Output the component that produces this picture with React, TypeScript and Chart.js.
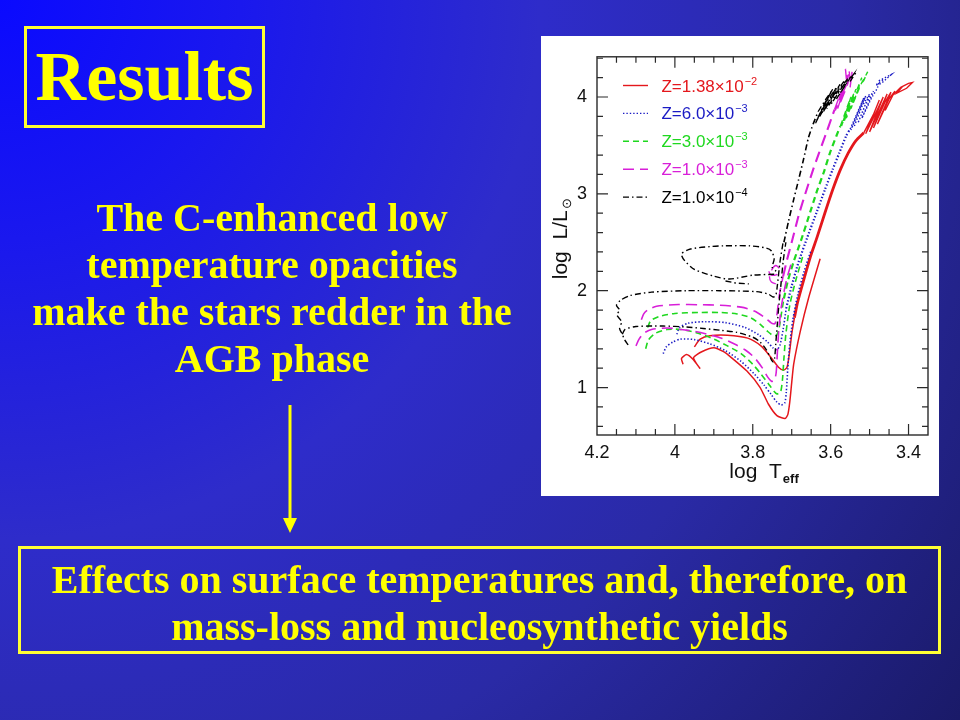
import React, { useEffect, useRef } from "react";
import { Chart, registerables } from "chart.js";

Chart.register(...registerables);

type P = [number, number];

// ---------- axis ticks ----------
const xTickValues = [4.2, 4.0, 3.8, 3.6, 3.4];
const xTickLabels = ["4.2", "4", "3.8", "3.6", "3.4"];
const yTickValues = [1, 2, 3, 4];
const yTickLabels = ["1", "2", "3", "4"];

// ---------- legend ----------
const legendMantissa = ["Z=1.38×10", "Z=6.0×10", "Z=3.0×10", "Z=1.0×10", "Z=1.0×10"];
const legendExponent = ["−2", "−3", "−3", "−3", "−4"];

// ---------- tracks (log Teff, log L/Lsun) ----------
// Z = 1.38e-2
const redLowTrack: P[] = [[3.979,1.24],[3.983,1.30],[3.97,1.34],[3.953,1.29],[3.936,1.20],[3.945,1.25],[3.952,1.31],[3.931,1.37],[3.90,1.41],[3.875,1.37],[3.858,1.32],[3.815,1.17],[3.781,1.0],[3.76,0.83],[3.738,0.71],[3.717,0.68],[3.71,0.72],[3.705,0.85],[3.70,1.05],[3.695,1.24],[3.678,1.58],[3.657,1.92],[3.627,2.33]];
const redUpTrack: P[] = [[3.95,1.42],[3.935,1.50],[3.91,1.535],[3.865,1.54],[3.813,1.51],[3.779,1.43],[3.753,1.31],[3.734,1.21],[3.721,1.18],[3.712,1.21],[3.706,1.35],[3.70,1.55],[3.693,1.72]];
const redAgb: P[] = [[3.693,1.72],[3.685,1.88],[3.67,2.1],[3.652,2.35],[3.635,2.55],[3.615,2.8],[3.595,3.04],[3.575,3.25],[3.555,3.42],[3.535,3.55],[3.515,3.63]];
const redPulses: P[] = [[3.515,3.63],[3.49,3.82],[3.475,3.97],[3.51,3.62],[3.48,3.87],[3.465,4.0],[3.50,3.64],[3.47,3.9],[3.455,4.03],[3.49,3.68],[3.46,3.95],[3.445,4.05],[3.48,3.72],[3.45,3.98],[3.435,4.06],[3.46,3.86],[3.44,4.02],[3.42,4.1],[3.40,4.14],[3.39,4.15],[3.405,4.09],[3.43,4.04],[3.415,4.11]];

// Z = 6.0e-3
const blueLowTrack: P[] = [[4.03,1.35],[4.022,1.42],[4.005,1.47],[3.985,1.50],[3.95,1.495],[3.91,1.45],[3.87,1.38],[3.83,1.27],[3.796,1.14],[3.77,1.02],[3.753,0.93],[3.738,0.85],[3.727,0.82],[3.718,0.84],[3.714,0.95],[3.71,1.2],[3.705,1.45],[3.697,1.7],[3.685,1.95],[3.668,2.2],[3.65,2.42]];
const blueUpTrack: P[] = [[3.995,1.55],[3.988,1.62],[3.965,1.665],[3.92,1.68],[3.87,1.67],[3.82,1.62],[3.785,1.545],[3.762,1.47],[3.748,1.41],[3.738,1.39],[3.73,1.44],[3.722,1.6],[3.714,1.82]];
const blueAgb: P[] = [[3.714,1.82],[3.70,2.05],[3.682,2.3],[3.66,2.55],[3.635,2.82],[3.615,3.04],[3.595,3.25],[3.578,3.42],[3.56,3.6],[3.55,3.67]];
const bluePulses: P[] = [[3.55,3.67],[3.53,3.85],[3.515,3.99],[3.548,3.66],[3.525,3.88],[3.51,4.01],[3.54,3.69],[3.52,3.9],[3.50,4.03],[3.53,3.73],[3.51,3.93],[3.49,4.06],[3.52,3.78],[3.495,3.99],[3.48,4.09],[3.475,4.17],[3.46,4.2],[3.445,4.23],[3.47,4.14],[3.485,4.12],[3.465,4.18]];

// Z = 3.0e-3
const greenLowTrack: P[] = [[4.075,1.40],[4.068,1.49],[4.05,1.56],[4.02,1.60],[3.985,1.60],[3.94,1.56],[3.90,1.50],[3.865,1.43],[3.83,1.35],[3.80,1.24],[3.779,1.14],[3.76,1.04],[3.745,0.96],[3.738,0.935],[3.729,0.95],[3.724,1.07],[3.72,1.3],[3.715,1.55],[3.705,1.85],[3.69,2.1],[3.672,2.35]];
const greenUpTrack: P[] = [[4.07,1.62],[4.062,1.69],[4.04,1.735],[4.0,1.765],[3.94,1.775],[3.884,1.775],[3.84,1.76],[3.805,1.72],[3.78,1.65],[3.762,1.58],[3.749,1.54],[3.739,1.54],[3.733,1.6],[3.727,1.75],[3.72,1.92]];
const greenAgb: P[] = [[3.72,1.92],[3.71,2.1],[3.695,2.3],[3.676,2.52],[3.655,2.78],[3.635,3.03],[3.617,3.23],[3.602,3.42],[3.585,3.6],[3.575,3.7]];
const greenPulses: P[] = [[3.575,3.7],[3.56,3.87],[3.548,4.0],[3.572,3.7],[3.555,3.9],[3.54,4.04],[3.566,3.74],[3.55,3.93],[3.535,4.08],[3.56,3.78],[3.54,3.98],[3.525,4.12],[3.548,3.88],[3.52,4.15],[3.51,4.22],[3.505,4.26],[3.515,4.17],[3.53,4.1],[3.52,4.2]];

// Z = 1.0e-3
const magentaLowTrack: P[] = [[4.10,1.43],[4.092,1.50],[4.08,1.56],[4.06,1.60],[4.02,1.615],[3.985,1.60],[3.95,1.58],[3.916,1.55],[3.88,1.51],[3.847,1.45],[3.82,1.39],[3.796,1.31],[3.775,1.20],[3.762,1.11],[3.752,1.065],[3.745,1.07],[3.74,1.15],[3.737,1.35],[3.733,1.6],[3.726,1.85],[3.714,2.1],[3.70,2.3]];
const magentaUpTrack: P[] = [[4.086,1.70],[4.08,1.76],[4.07,1.80],[4.047,1.84],[3.99,1.857],[3.94,1.855],[3.884,1.85],[3.83,1.83],[3.796,1.79],[3.768,1.72],[3.752,1.665],[3.743,1.66],[3.738,1.75],[3.732,1.95],[3.722,2.15]];
const magentaLoop: P[] = [[3.741,2.07],[3.752,2.09],[3.757,2.14],[3.752,2.21],[3.741,2.26],[3.733,2.23],[3.737,2.17],[3.752,2.16],[3.758,2.2],[3.748,2.24]];
const magentaAgb: P[] = [[3.722,2.15],[3.712,2.32],[3.70,2.5],[3.682,2.78],[3.662,3.04],[3.645,3.25],[3.63,3.42],[3.612,3.62],[3.598,3.78],[3.59,3.87]];
const magentaPulses: P[] = [[3.59,3.87],[3.58,3.98],[3.572,4.06],[3.588,3.86],[3.575,4.0],[3.565,4.1],[3.582,3.88],[3.57,4.03],[3.56,4.12],[3.577,3.92],[3.563,4.06],[3.555,4.15],[3.562,4.29],[3.558,4.12],[3.553,4.28],[3.548,4.13],[3.545,4.26],[3.55,4.1]];

// Z = 1.0e-4
const blackLowTrack: P[] = [[4.135,1.55],[4.128,1.60],[4.10,1.63],[4.03,1.635],[3.97,1.625],[3.927,1.61],[3.88,1.59],[3.841,1.57],[3.80,1.52],[3.781,1.47],[3.765,1.39],[3.755,1.31],[3.748,1.265],[3.744,1.30],[3.741,1.45],[3.737,1.65],[3.733,1.85],[3.728,2.05],[3.722,2.3],[3.715,2.5]];
const blackUpTrack: P[] = [[4.12,1.44],[4.13,1.50],[4.135,1.55],[4.142,1.61],[4.137,1.68],[4.149,1.75],[4.142,1.80],[4.15,1.85],[4.14,1.90],[4.115,1.95],[4.06,1.985],[3.97,2.0],[3.884,2.0],[3.79,1.99],[3.76,1.965],[3.748,1.935],[3.741,1.95],[3.737,2.05],[3.73,2.3],[3.722,2.5]];
const blackLoop: P[] = [[3.745,2.17],[3.80,2.16],[3.86,2.12],[3.90,2.15],[3.95,2.22],[3.975,2.31],[3.983,2.38],[3.96,2.43],[3.91,2.455],[3.876,2.463],[3.807,2.463],[3.765,2.44],[3.752,2.41],[3.745,2.33],[3.75,2.24],[3.74,2.2]];
const blackSpur: P[] = [[3.87,2.1],[3.845,2.08],[3.81,2.07]];
const blackAgb: P[] = [[3.72,2.5],[3.708,2.72],[3.695,2.94],[3.682,3.15],[3.67,3.35],[3.657,3.58],[3.645,3.72],[3.632,3.85]];
const blackPulses: P[] = [[3.632,3.85],[3.612,3.98],[3.598,4.06],[3.64,3.72],[3.62,3.9],[3.595,4.08],[3.636,3.76],[3.61,3.95],[3.585,4.1],[3.628,3.8],[3.60,3.98],[3.576,4.13],[3.62,3.84],[3.592,4.02],[3.566,4.16],[3.61,3.88],[3.582,4.06],[3.556,4.19],[3.598,3.93],[3.572,4.1],[3.548,4.21],[3.585,3.98],[3.56,4.14],[3.54,4.24],[3.55,4.16],[3.535,4.25]];

// ---------- styling ----------
const groupColors = ["#e4171c", "#1b1bc4", "#1fd81f", "#d81fd8", "#000000"];
const groupDashes = [[], [1.4, 2], [6, 4], [11, 6], [6, 3, 1.5, 3]];

const seriesTable: { data: P[]; group: number; width: number; tension: number }[] = [
  { data: blackLowTrack, group: 4, width: 1.4, tension: 0.25 },
  { data: blackUpTrack, group: 4, width: 1.4, tension: 0.25 },
  { data: blackLoop, group: 4, width: 1.4, tension: 0.25 },
  { data: blackSpur, group: 4, width: 1.4, tension: 0 },
  { data: blackAgb, group: 4, width: 1.6, tension: 0.2 },
  { data: blackPulses, group: 4, width: 1.3, tension: 0 },
  { data: magentaLowTrack, group: 3, width: 1.6, tension: 0.25 },
  { data: magentaUpTrack, group: 3, width: 1.6, tension: 0.25 },
  { data: magentaLoop, group: 3, width: 1.4, tension: 0.3 },
  { data: magentaAgb, group: 3, width: 2.1, tension: 0.2 },
  { data: magentaPulses, group: 3, width: 1.4, tension: 0 },
  { data: greenLowTrack, group: 2, width: 1.6, tension: 0.25 },
  { data: greenUpTrack, group: 2, width: 1.6, tension: 0.25 },
  { data: greenAgb, group: 2, width: 2.2, tension: 0.2 },
  { data: greenPulses, group: 2, width: 1.4, tension: 0 },
  { data: blueLowTrack, group: 1, width: 1.6, tension: 0.25 },
  { data: blueUpTrack, group: 1, width: 1.6, tension: 0.25 },
  { data: blueAgb, group: 1, width: 2.2, tension: 0.2 },
  { data: bluePulses, group: 1, width: 1.4, tension: 0 },
  { data: redLowTrack, group: 0, width: 1.5, tension: 0.2 },
  { data: redUpTrack, group: 0, width: 1.5, tension: 0.25 },
  { data: redAgb, group: 0, width: 2.8, tension: 0.2 },
  { data: redPulses, group: 0, width: 1.4, tension: 0 },
];

const FONT = "'Liberation Sans', Arial, sans-serif";

const decorPlugin = {
  id: "hrDecor",
  afterDraw(chart: any) {
    const ctx: CanvasRenderingContext2D = chart.ctx;
    const { left, right, top, bottom } = chart.chartArea;
    const xs = chart.scales.x;
    const ys = chart.scales.y;
    ctx.save();
    ctx.setLineDash([]);
    ctx.strokeStyle = "#2a2a2a";
    ctx.lineWidth = 1.4;
    ctx.strokeRect(left, top, right - left, bottom - top);

    // inward ticks on all four sides
    ctx.lineWidth = 1.2;
    ctx.beginPath();
    for (let k = 67; k <= 84; k++) {
      const px = xs.getPixelForValue(k * 0.05);
      if (px <= left + 0.5 || px >= right - 0.5) continue;
      const len = k % 4 === 0 ? 11 : 6;
      ctx.moveTo(px, bottom);
      ctx.lineTo(px, bottom - len);
      ctx.moveTo(px, top);
      ctx.lineTo(px, top + len);
    }
    for (let k = 3; k <= 22; k++) {
      const py = ys.getPixelForValue(k * 0.2);
      if (py <= top + 0.5 || py >= bottom - 0.5) continue;
      const len = k % 5 === 0 ? 11 : 6;
      ctx.moveTo(left, py);
      ctx.lineTo(left + len, py);
      ctx.moveTo(right, py);
      ctx.lineTo(right - len, py);
    }
    ctx.stroke();

    // legend
    legendMantissa.forEach((m, i) => {
      const cy = top + 28.7 + i * 27.9;
      ctx.strokeStyle = groupColors[i];
      ctx.lineWidth = 1.4;
      ctx.setLineDash(groupDashes[i]);
      ctx.beginPath();
      ctx.moveTo(left + 26, cy);
      ctx.lineTo(left + 51, cy);
      ctx.stroke();
      ctx.setLineDash([]);
      ctx.fillStyle = groupColors[i];
      ctx.textBaseline = "alphabetic";
      ctx.textAlign = "left";
      ctx.font = `17px ${FONT}`;
      const tx = left + 64.4;
      ctx.fillText(m, tx, cy + 6);
      const w = ctx.measureText(m).width;
      ctx.font = `11px ${FONT}`;
      ctx.fillText(legendExponent[i], tx + w + 1, cy - 1);
    });

    // axis titles
    ctx.fillStyle = "#111";
    ctx.textBaseline = "alphabetic";
    ctx.textAlign = "left";
    {
      ctx.font = `21px ${FONT}`;
      const main = "log  T";
      const w1 = ctx.measureText(main).width;
      ctx.font = `bold 13px ${FONT}`;
      const w2 = ctx.measureText("eff").width;
      const sx = 222.5 - (w1 + w2) / 2;
      ctx.font = `21px ${FONT}`;
      ctx.fillText(main, sx, 441.7);
      ctx.font = `bold 13px ${FONT}`;
      ctx.fillText("eff", sx + w1 + 1, 446.7);
    }
    {
      ctx.translate(19, 203.3);
      ctx.rotate(-Math.PI / 2);
      ctx.font = `21px ${FONT}`;
      const main = "log  L/L";
      const w1 = ctx.measureText(main).width;
      ctx.font = `13px ${FONT}`;
      const w2 = ctx.measureText("⊙").width;
      const sx = -(w1 + w2) / 2;
      ctx.font = `21px ${FONT}`;
      ctx.fillText(main, sx, 7);
      ctx.font = `13px ${FONT}`;
      ctx.fillText("⊙", sx + w1 + 1, 11);
    }
    ctx.restore();
  },
};

function HRChart() {
  const ref = useRef<HTMLCanvasElement | null>(null);
  useEffect(() => {
    if (!ref.current) return;
    const datasets = seriesTable.map((s) => ({
      data: s.data.map(([x, y]) => ({ x, y })),
      showLine: true,
      borderColor: groupColors[s.group],
      backgroundColor: groupColors[s.group],
      borderDash: groupDashes[s.group],
      borderWidth: s.width,
      tension: s.tension,
      pointRadius: 0,
      fill: false,
    }));
    const chart = new Chart(ref.current, {
      type: "scatter",
      data: { datasets },
      options: {
        animation: false,
        responsive: false,
        maintainAspectRatio: false,
        devicePixelRatio: 1,
        events: [],
        layout: { padding: { top: 16, right: 11, left: 0, bottom: 0 } },
        plugins: { legend: { display: false }, tooltip: { enabled: false } },
        scales: {
          x: {
            type: "linear",
            reverse: true,
            min: 3.35,
            max: 4.2,
            grid: { display: false, drawTicks: false },
            border: { display: false },
            afterBuildTicks: (s: any) => {
              s.ticks = xTickValues.map((v) => ({ value: v }));
            },
            afterFit: (s: any) => {
              s.height = 61;
            },
            ticks: {
              callback: (v: any) => {
                const i = xTickValues.indexOf(Number(v));
                return i >= 0 ? xTickLabels[i] : "";
              },
              font: { family: FONT, size: 18 },
              color: "#111",
              padding: 7,
              maxRotation: 0,
              autoSkip: false,
            },
          },
          y: {
            type: "linear",
            min: 0.51,
            max: 4.415,
            grid: { display: false, drawTicks: false },
            border: { display: false },
            afterBuildTicks: (s: any) => {
              s.ticks = yTickValues.map((v) => ({ value: v }));
            },
            afterFit: (s: any) => {
              s.width = 56;
            },
            ticks: {
              callback: (v: any) => {
                const i = yTickValues.indexOf(Number(v));
                return i >= 0 ? yTickLabels[i] : "";
              },
              font: { family: FONT, size: 18 },
              color: "#111",
              padding: 10,
              autoSkip: false,
            },
          },
        },
      } as any,
      plugins: [decorPlugin],
    });
    return () => chart.destroy();
  }, []);
  return (
    <canvas
      ref={ref}
      width={398}
      height={460}
      style={{ position: "absolute", left: 541, top: 36, width: 398, height: 460, background: "#ffffff" }}
    />
  );
}

const YELLOW = "#ffff00";

export default function App() {
  return (
    <div
      style={{
        position: "fixed",
        left: 0,
        top: 0,
        width: 960,
        height: 720,
        overflow: "hidden",
        background:
          "radial-gradient(circle at 0% 0%, #0a0aff 0%, #1a18ee 20%, #2e2cca 45%, #2a2aa6 70%, #1a1a68 100%)",
        fontFamily: "'Liberation Serif', 'Times New Roman', serif",
        fontWeight: "bold",
        color: YELLOW,
      }}
    >
      <div
        style={{
          position: "absolute",
          left: 24,
          top: 26,
          width: 241,
          height: 102,
          boxSizing: "border-box",
          border: "3px solid #ffff33",
          display: "flex",
          alignItems: "center",
          justifyContent: "center",
          fontSize: 70,
          lineHeight: 1,
        }}
      >
        Results
      </div>

      <div
        style={{
          position: "absolute",
          left: 22,
          top: 194,
          width: 500,
          textAlign: "center",
          fontSize: 40,
          lineHeight: "47px",
          whiteSpace: "nowrap",
        }}
      >
        The C-enhanced low
        <br />
        temperature opacities
        <br />
        make the stars redder in the
        <br />
        AGB phase
      </div>

      <svg
        style={{ position: "absolute", left: 280, top: 400 }}
        width={20}
        height={140}
        viewBox="0 0 20 140"
      >
        <line x1={10} y1={5} x2={10} y2={120} stroke={YELLOW} strokeWidth={3} />
        <polygon points="3,118 17,118 10,133" fill={YELLOW} />
      </svg>

      <div
        style={{
          position: "absolute",
          left: 18,
          top: 546,
          width: 923,
          height: 108,
          boxSizing: "border-box",
          border: "3px solid #ffff33",
          paddingTop: 7,
          textAlign: "center",
          fontSize: 40,
          lineHeight: "47px",
          whiteSpace: "nowrap",
        }}
      >
        Effects on surface temperatures and, therefore, on
        <br />
        mass-loss and nucleosynthetic yields
      </div>

      <HRChart />
    </div>
  );
}
